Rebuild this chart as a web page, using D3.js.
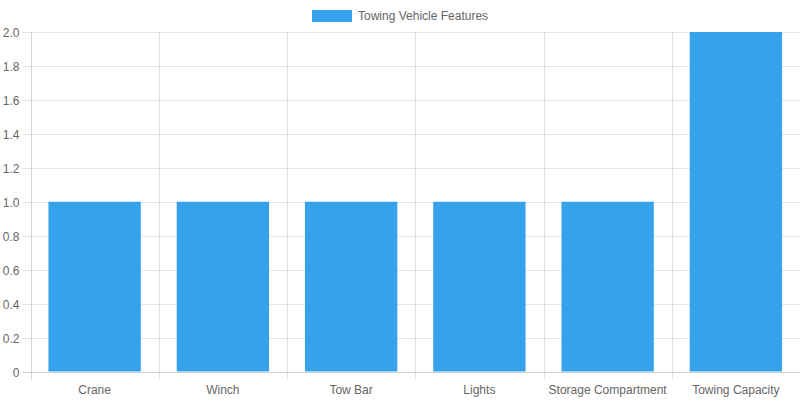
<!DOCTYPE html>
<html>
<head>
<meta charset="utf-8">
<script src="https://cdn.jsdelivr.net/npm/d3@7"></script>
<style>
html,body{margin:0;padding:0;background:#fff;}
svg{display:block;font-family:"Liberation Sans",Arial,Helvetica,sans-serif;}
</style>
</head>
<body>
<svg id="chart" width="800" height="400"></svg>
<script>
const categories = ["Crane","Winch","Tow Bar","Lights","Storage Compartment","Towing Capacity"];
const values = [1,1,1,1,1,2];
const seriesName = "Towing Vehicle Features";
const yTicks = [0,0.2,0.4,0.6,0.8,1.0,1.2,1.4,1.6,1.8,2.0];

(function () {
const pLeft = 30.5, pRight = 800, pTop = 32, pBottom = 371.5;
const svg = d3.select("#chart");
const barColor = "rgb(54,162,235)";
const gridColor = "rgba(0,0,0,0.1)";
const axisColor = "rgba(0,0,0,0.17)";
const textColor = "#666";

const x = d3.scaleBand().domain(categories).range([pLeft, pRight]).paddingInner(0).paddingOuter(0);
const y = d3.scaleLinear().domain([0, 2]).range([pBottom, pTop]);

// horizontal gridlines + tick marks
const gy = svg.append("g");
yTicks.forEach(t => {
  const yy = Math.round(y(t)) + 0.5;
  gy.append("line").attr("x1", pLeft - 8).attr("x2", pRight).attr("y1", yy).attr("y2", yy)
    .attr("stroke", t === 0 ? axisColor : gridColor).attr("stroke-width", 1);
  gy.append("text").attr("x", pLeft - 11).attr("y", yy).attr("dy", "0.35em")
    .attr("text-anchor", "end").attr("font-size", 12).attr("fill", textColor)
    .text(t === 0 ? "0" : d3.format(".1f")(t));
});

// vertical gridlines
const gx = svg.append("g");
const edges = categories.map(c => x(c)).concat([pRight]);
edges.forEach((e, i) => {
  const xx = Math.round(e) + 0.5;
  gx.append("line").attr("x1", xx).attr("x2", xx).attr("y1", pTop).attr("y2", pBottom + 8)
    .attr("stroke", i === 0 ? axisColor : gridColor).attr("stroke-width", 1);
});

// x labels
categories.forEach(c => {
  svg.append("text").attr("x", x(c) + x.bandwidth() / 2).attr("y", 394)
    .attr("text-anchor", "middle").attr("font-size", 12).attr("fill", textColor).text(c);
});

// bars
const bw = x.bandwidth() * 0.72;
svg.append("g").selectAll("rect").data(values).join("rect")
  .attr("x", (d, i) => x(categories[i]) + (x.bandwidth() - bw) / 2)
  .attr("width", bw)
  .attr("y", d => y(d))
  .attr("height", d => y(0) - y(d))
  .attr("fill", barColor);

// legend
const lg = svg.append("g");
lg.append("rect").attr("x", 312).attr("y", 10).attr("width", 40).attr("height", 12).attr("fill", barColor);
lg.append("text").attr("x", 358).attr("y", 16).attr("dy", "0.35em").attr("font-size", 12)
  .attr("fill", textColor).text(seriesName);
})();
</script>
</body>
</html>
